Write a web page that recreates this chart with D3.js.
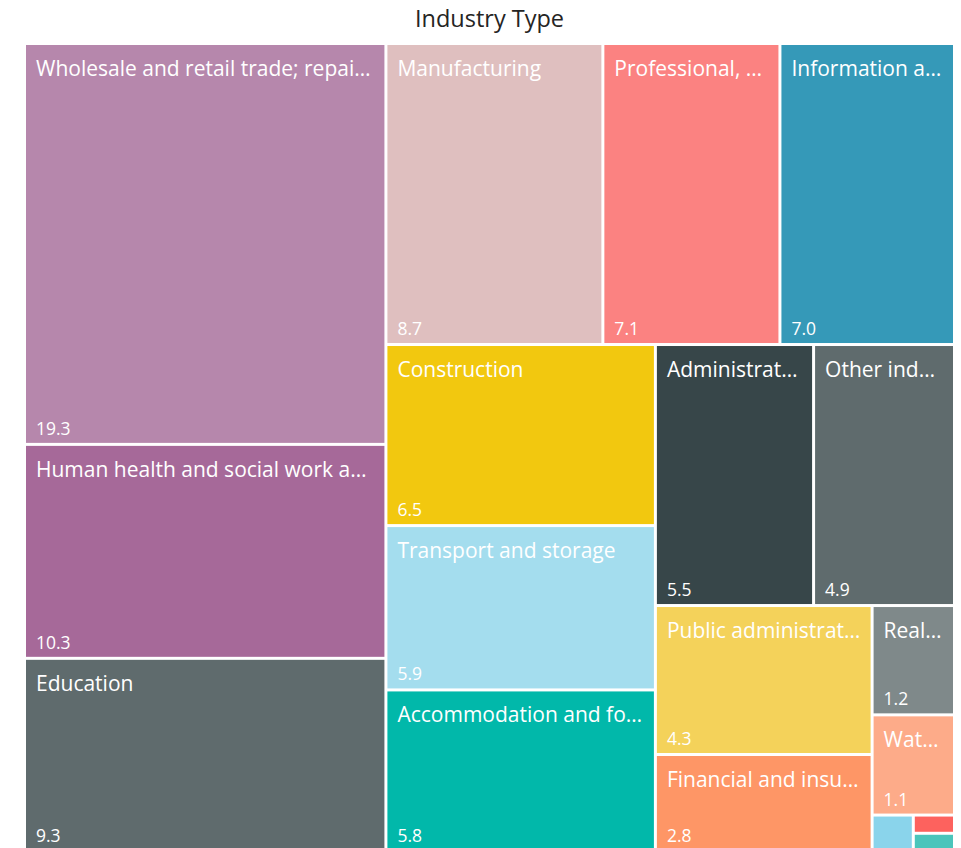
<!DOCTYPE html>
<meta charset="utf-8">
<script src="https://d3js.org/d3.v7.min.js"></script>
<style>
  body { margin: 0; background: #fff; }
  text { font-family: "Segoe UI", "Open Sans", sans-serif; }
</style>
<body>
<div id="chart"></div>
<script>

// industry share (%)
var industries = [
  "Wholesale and retail trade; repair of motor vehicles and motorcycles",
  "Human health and social work activities",
  "Education",
  "Manufacturing",
  "Professional, scientific and technical activities",
  "Information and communication",
  "Construction",
  "Transport and storage",
  "Accommodation and food service activities",
  "Administrative and support service activities",
  "Other industries",
  "Public administration and defence",
  "Financial and insurance activities",
  "Real estate activities",
  "Water supply; sewerage, waste management and remediation activities",
  "Electricity, gas, steam and air conditioning supply",
  "Mining and quarrying",
  "Agriculture, forestry and fishing"
];
var shares = [19.3, 10.3, 9.3, 8.7, 7.1, 7.0, 6.5, 5.9, 5.8, 5.5, 4.9, 4.3, 2.8, 1.2, 1.1, 0.2, 0.1, 0.1];
var colours = ["#B687AC", "#A66999", "#5F6B6D", "#DFBFBF", "#FB8281", "#3599B8",
               "#F2C80F", "#A4DDEE", "#01B8AA", "#374649", "#5F6B6D", "#F4D25A",
               "#FE9666", "#7F898A", "#FDAB89", "#8AD4EB", "#FD625E", "#4AC5BB"];

var W = 961, H = 848;
var margin = {top: 45, left: 26, right: 8};
var tmW = W - margin.left - margin.right,
    tmH = 805;

var svg = d3.select("#chart").append("svg")
    .attr("width", W)
    .attr("height", H);

svg.append("text")
    .attr("x", 489.5)
    .attr("y", 27)
    .attr("text-anchor", "middle")
    .style("font-size", "23.5px")
    .style("fill", "#252423")
    .text("Industry Type");

var data = industries.map(function(d, i) {
  return {name: d, value: shares[i], color: colours[i]};
});

var root = d3.hierarchy({children: data})
    .sum(function(d) { return d.value || 0; });

d3.treemap()
    .tile(d3.treemapSquarify)
    .size([tmW, tmH])
    .paddingInner(3)(root);

var g = svg.append("g")
    .attr("transform", "translate(" + margin.left + "," + margin.top + ")");

var cell = g.selectAll(".cell")
    .data(root.leaves())
    .enter().append("g")
    .attr("class", "cell")
    .attr("transform", function(d) { return "translate(" + d.x0 + "," + d.y0 + ")"; });

cell.append("rect")
    .attr("width", function(d) { return d.x1 - d.x0; })
    .attr("height", function(d) { return d.y1 - d.y0; })
    .attr("fill", function(d) { return d.data.color; });

// cut a label down to the room it has, with an ellipsis
function fit(sel, room) {
  var full = sel.text();
  if (sel.node().getComputedTextLength() <= room) return;
  for (var n = full.length - 1; n > 0; n--) {
    sel.text(full.slice(0, n) + "\u2026");
    if (sel.node().getComputedTextLength() <= room) return;
  }
}

var big = cell.filter(function(d) { return (d.x1 - d.x0) > 60 && (d.y1 - d.y0) > 60; });

big.append("text")
    .attr("x", 10)
    .attr("y", 31)
    .style("font-size", "21px")
    .style("fill", "#fff")
    .text(function(d) { return d.data.name; })
    .each(function(d) { fit(d3.select(this), d.x1 - d.x0 - 19.5); });

big.append("text")
    .attr("x", 10)
    .attr("y", function(d) { return d.y1 - d.y0 - 8; })
    .style("font-size", "17.5px")
    .style("fill", "#fff")
    .text(function(d) { return d3.format(".1f")(d.data.value); });

</script>
</body>
